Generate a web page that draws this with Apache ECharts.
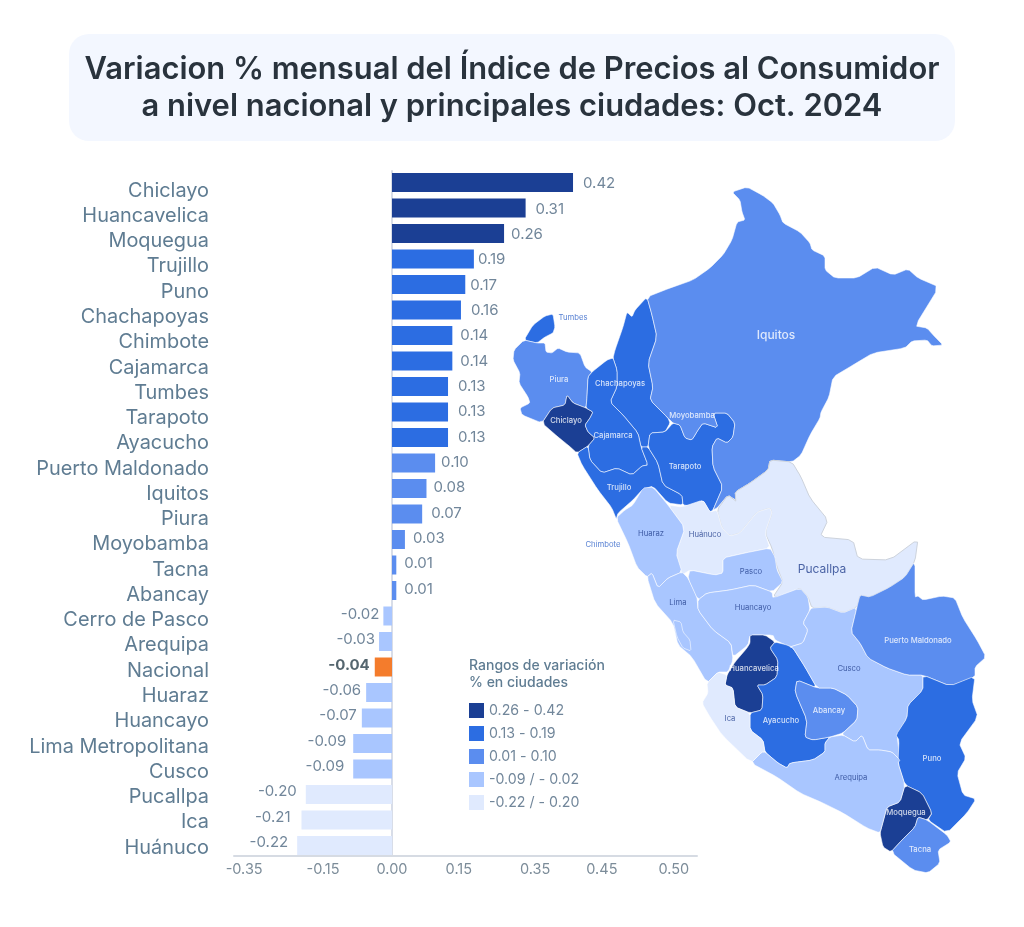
<!DOCTYPE html>
<html lang="es">
<head>
<meta charset="utf-8">
<title>Variación IPC</title>
<style>html,body{margin:0;padding:0;background:#fff}#c{width:1024px;height:927px}</style>
<script src="https://cdn.jsdelivr.net/npm/echarts@6/dist/echarts.min.js"></script>
</head>
<body>
<div id="c"></div>
<script>
const cities = ['Chiclayo','Huancavelica','Moquegua','Trujillo','Puno','Chachapoyas','Chimbote','Cajamarca','Tumbes','Tarapoto','Ayacucho','Puerto Maldonado','Iquitos','Piura','Moyobamba','Tacna','Abancay','Cerro de Pasco','Arequipa','Nacional','Huaraz','Huancayo','Lima Metropolitana','Cusco','Pucallpa','Ica','Huánuco'];
const values = [0.42,0.31,0.26,0.19,0.17,0.16,0.14,0.14,0.13,0.13,0.13,0.10,0.08,0.07,0.03,0.01,0.01,-0.02,-0.03,-0.04,-0.06,-0.07,-0.09,-0.09,-0.20,-0.21,-0.22];
const axisTickLabels = ['-0.35','-0.15','0.00','0.15','0.35','0.45','0.50'];
const axisTickPlaces = [-0.343,-0.16,0,0.155,0.332,0.487,0.654];
const labelGaps = [10,10,7,4,5,10,8,8,10,10,10,6,7,9,8,8,8,4,4,5,5,5,7,9,9,11,9];
const rangeLabels = ['0.26 - 0.42','0.13 - 0.19','0.01 - 0.10','-0.09 / - 0.02','-0.22 / - 0.20'];
const rangeMin = [0.26,0.13,0.01,-0.09,-0.22];
const rangeMax = [0.42,0.19,0.10,-0.02,-0.20];
const rangeColors = ['#1B3F94','#2C6DE2','#5B8DEF','#A9C6FF','#E0EAFE'];
const nationalColor = '#F47C2C';

// region outlines; x right, y down
const regionShapes = {
 Tumbes:[[524,340],[533,325],[545,316],[553,314],[555,327],[553,333],[545,337],[537,343]],
 Piura:[[524,340],[537,343],[545,343],[546,352],[552,353],[558,348],[567,352],[580,353],[585,367],[592,372],[588,377],[587,397],[586,408],[573,403],[567,395],[565,405],[552,408],[542,423],[522,415],[520,408],[530,403],[528,397],[519,383],[520,373],[513,360],[514,350]],
 Chiclayo:[[542,423],[552,408],[565,405],[567,395],[573,403],[586,408],[593,412],[590,418],[585,425],[588,432],[595,438],[588,446],[577,453],[568,445],[558,437]],
 Chachapoyas:[[647,297],[652,315],[657,337],[648,363],[653,387],[650,400],[668,418],[670,423],[665,432],[650,433],[648,447],[641,447],[638,433],[623,415],[610,402],[617,387],[617,370],[613,358],[615,350],[623,327],[627,312],[632,317],[635,310]],
 Cajamarca:[[592,372],[607,360],[613,358],[617,370],[617,387],[610,402],[623,415],[638,433],[641,447],[648,465],[642,466],[632,475],[617,468],[602,473],[590,460],[588,446],[595,438],[588,432],[585,425],[590,418],[593,412],[586,408],[587,397],[588,377]],
 Trujillo:[[577,453],[588,446],[590,460],[602,473],[617,468],[632,475],[642,466],[648,465],[641,447],[648,447],[658,463],[663,485],[682,495],[683,505],[668,503],[653,486],[642,490],[633,500],[618,513],[616,520],[612,508],[598,490],[582,465]],
 Tarapoto:[[648,447],[650,433],[665,432],[673,423],[680,425],[685,438],[692,440],[698,430],[703,423],[718,428],[713,413],[727,413],[735,423],[733,437],[727,443],[717,438],[712,447],[713,467],[723,487],[713,510],[710,512],[703,500],[693,506],[683,505],[682,495],[663,485],[658,463]],
 Iquitos:[[647,297],[670,288],[693,280],[710,268],[723,255],[732,240],[737,222],[745,220],[742,212],[740,200],[732,192],[747,187],[762,195],[773,203],[780,215],[783,223],[800,232],[810,243],[812,250],[825,256],[825,270],[835,278],[857,278],[875,267],[893,275],[908,269],[918,278],[939,287],[915,326],[927,328],[935,337],[943,345],[932,346],[927,340],[912,341],[905,348],[873,353],[853,365],[833,377],[829,397],[821,412],[820,418],[810,435],[801,455],[792,462],[770,460],[768,470],[750,483],[735,492],[737,502],[728,495],[717,508],[713,510],[723,487],[713,467],[712,447],[717,438],[727,443],[733,437],[735,423],[727,413],[713,413],[718,428],[703,423],[698,430],[692,440],[685,438],[680,425],[673,423],[668,418],[650,400],[653,387],[648,363],[657,337],[652,315]],
 Pucallpa:[[770,460],[792,462],[801,477],[810,498],[828,520],[820,537],[853,540],[858,559],[890,560],[918,539],[915,561],[905,577],[890,587],[870,597],[860,595],[857,607],[843,613],[827,607],[812,608],[808,597],[800,588],[787,595],[773,597],[783,582],[777,567],[772,548],[765,533],[772,513],[770,508],[757,512],[740,533],[730,536],[722,528],[717,510],[728,495],[737,502],[735,492],[750,483],[768,470]],
 Huánuco:[[668,505],[682,507],[703,500],[710,512],[717,510],[722,528],[730,536],[740,533],[757,512],[770,508],[772,513],[765,533],[770,548],[745,553],[723,558],[723,573],[715,575],[690,570],[682,575],[680,567],[676,553],[685,528]],
 Huaraz:[[616,518],[625,510],[633,505],[643,488],[653,487],[668,505],[685,528],[676,553],[682,572],[668,578],[658,588],[652,573],[647,577],[637,567],[628,543]],
 Lima:[[647,577],[652,573],[658,588],[668,578],[682,572],[688,578],[697,597],[698,610],[713,630],[731,643],[733,660],[728,672],[718,672],[707,683],[692,657],[678,645],[673,623],[655,603]],
 Callao:[[673,620],[681,622],[683,632],[690,640],[691,651],[683,648],[677,637]],
 Pasco:[[690,570],[715,575],[723,573],[723,558],[745,553],[770,548],[775,557],[777,570],[783,582],[772,592],[753,585],[730,590],[707,593],[698,600],[688,578]],
 Huancayo:[[698,600],[707,593],[730,590],[753,585],[772,592],[773,598],[800,588],[808,597],[810,610],[803,623],[808,630],[803,643],[790,647],[775,640],[773,635],[750,635],[748,645],[733,657],[731,643],[713,630],[698,610]],
 Huancavelica:[[750,635],[765,635],[775,642],[770,648],[778,660],[777,677],[765,685],[757,685],[763,695],[762,710],[750,713],[735,707],[733,688],[725,685],[727,675],[735,662],[747,648],[750,643]],
 Ayacucho:[[770,648],[775,642],[787,645],[793,648],[805,667],[817,688],[797,680],[795,692],[807,720],[805,737],[813,740],[830,737],[825,743],[825,752],[813,760],[790,763],[787,768],[778,763],[765,752],[763,740],[750,730],[750,713],[762,710],[763,695],[757,685],[765,685],[777,677],[778,660]],
 Abancay:[[797,680],[817,688],[833,688],[847,695],[858,707],[857,720],[843,733],[830,737],[813,740],[805,737],[807,720],[795,692]],
 Cusco:[[812,608],[827,607],[843,613],[857,607],[851,632],[860,643],[868,658],[887,668],[907,675],[923,675],[923,690],[908,705],[907,718],[897,735],[900,760],[892,752],[880,750],[868,750],[862,735],[855,742],[843,735],[843,733],[857,720],[858,707],[847,695],[833,688],[817,688],[805,667],[793,648],[790,647],[803,643],[808,630],[803,623],[810,610]],
 'Puerto Maldonado':[[860,595],[870,597],[890,587],[905,577],[915,561],[915,597],[918,596],[923,600],[942,596],[955,598],[963,618],[977,640],[986,657],[975,667],[975,677],[950,686],[923,675],[907,675],[887,668],[868,658],[860,643],[851,632],[857,607]],
 Puno:[[923,675],[950,686],[975,676],[972,700],[978,717],[959,743],[966,758],[957,773],[963,795],[976,799],[967,813],[947,833],[928,820],[932,813],[922,793],[905,785],[898,763],[899,740],[896,735],[907,718],[908,705],[923,690]],
 Moquegua:[[905,785],[922,793],[932,813],[927,820],[918,817],[915,827],[902,840],[891,852],[883,847],[880,833],[883,822],[887,807],[900,802]],
 Tacna:[[918,817],[927,820],[947,835],[951,842],[938,850],[940,863],[928,873],[913,870],[891,852],[902,840],[915,827]],
 Arequipa:[[751,763],[762,752],[765,752],[778,763],[787,768],[790,763],[813,760],[825,752],[825,743],[830,737],[843,735],[855,742],[862,735],[868,750],[880,750],[892,752],[900,760],[898,763],[905,785],[900,802],[887,807],[883,822],[880,833],[867,828],[843,813],[823,803],[800,793],[777,777]],
 Ica:[[727,675],[718,672],[707,683],[708,693],[702,703],[710,717],[722,735],[751,763],[762,752],[765,752],[763,740],[750,730],[750,713],[735,707],[733,688],[725,685]]
};
// region -> city whose value colours it
const regionCity = {Lima:'Lima Metropolitana',Pasco:'Cerro de Pasco'};

const mapLabelNames = ['Iquitos','Tumbes','Piura','Chachapoyas','Chiclayo','Cajamarca','Moyobamba','Tarapoto','Trujillo','Huaraz','Huánuco','Chimbote','Pasco','Huancayo','Lima','Pucallpa','Puerto Maldonado','Cusco','Huancavelica','Abancay','Ayacucho','Ica','Arequipa','Puno','Moquegua','Tacna'];
const mapLabelX = [776,573,559,620,566,613,692,685,619,651,705,603,751,753,678,822,918,849,754,829,781,730,851,932,906,920];
const mapLabelY = [335,318,380,384,421,436,416,467,488,534,535,545,572,608,603,569,641,669,669,711,721,719,778,759,813,850];
const darkLabels = ['Huaraz','Huánuco','Pasco','Huancayo','Lima','Pucallpa','Cusco','Ica','Arequipa'];
const blueLabels = ['Tumbes','Chimbote'];
const bigLabels = ['Iquitos','Pucallpa'];

const FONT = 'Inter';
const NAME_COL = '#5F7C92', NUM_COL = '#71869A';

function colorOf(v){
  for (let i=0;i<rangeMin.length;i++){ if (v>=rangeMin[i] && v<=rangeMax[i]) return rangeColors[i]; }
  return rangeColors[3];
}
// one pass of light corner cutting softens the traced outlines
function soften(ring){
  const out=[], t=0.14;
  for (let i=0;i<ring.length;i++){
    const a=ring[i], b=ring[(i+1)%ring.length];
    out.push([a[0]*(1-t)+b[0]*t,a[1]*(1-t)+b[1]*t],[a[0]*t+b[0]*(1-t),a[1]*t+b[1]*(1-t)]);
  }
  return out;
}
const features = Object.keys(regionShapes).map(n=>{
  const ring = soften(regionShapes[n]).map(p=>[p[0],-p[1]]);
  ring.push(ring[0]);
  return {type:'Feature',properties:{name:n},geometry:{type:'Polygon',coordinates:[ring]}};
});
echarts.registerMap('peru',{type:'FeatureCollection',features});

const mapData = Object.keys(regionShapes).filter(n=>cities.indexOf(regionCity[n]||n)>=0).map(n=>({name:n,value:values[cities.indexOf(regionCity[n]||n)]}));
const SCALE_MIN=(234-392)/431, SCALE_MAX=(697-392)/431;

const chart = echarts.init(document.getElementById('c'));
chart.setOption({
  animation:false,
  backgroundColor:'#fff',
  title:{
    text:'Variacion % mensual del Índice de Precios al Consumidor\na nivel nacional y principales ciudades: Oct. 2024',
    left:'center',top:34,
    padding:[17,15.5,16,15.5],
    backgroundColor:'#F3F7FF',borderRadius:20,
    textStyle:{fontFamily:FONT,fontSize:30.9,fontWeight:600,color:'#29333D',lineHeight:37}
  },
  grid:[
    {left:234,width:463,top:169.75,height:688.5},
    {left:209,width:10,top:178,height:682.3},
    {left:234,width:463,top:171,height:684}
  ],
  xAxis:[
    {type:'value',gridIndex:0,min:SCALE_MIN,max:SCALE_MAX,offset:-2.75,
     axisLine:{show:true,onZero:false,lineStyle:{color:'#D6DBE3',width:2}},axisTick:{show:false},splitLine:{show:false},
     axisLabel:{customValues:axisTickPlaces,formatter:v=>axisTickLabels[axisTickPlaces.indexOf(v)],fontFamily:FONT,fontSize:14.5,color:'#7C8C99',margin:7,hideOverlap:false}},
    {type:'value',gridIndex:1,show:false},
    {type:'value',gridIndex:2,min:SCALE_MIN,max:SCALE_MAX,show:false}
  ],
  yAxis:[
    {type:'category',gridIndex:0,inverse:true,data:cities,show:false},
    {type:'category',gridIndex:1,inverse:true,data:cities,position:'left',axisLine:{show:false},axisTick:{show:false},
     axisLabel:{interval:0,margin:0,fontFamily:FONT,fontSize:19.9,color:NAME_COL}},
    {type:'category',gridIndex:2,inverse:true,data:cities,axisLine:{show:true,onZero:true,lineStyle:{color:'#D8DDE8',width:2}},axisTick:{show:false},axisLabel:{show:false}}
  ],
  geo:{
    map:'peru',roam:false,silent:true,aspectScale:1,
    boundingCoords:[[513,-187],[986,-873]],
    left:513,top:187,width:473,height:686,
    label:{show:false},
    itemStyle:{areaColor:rangeColors[3],borderColor:'rgba(255,255,255,0.7)',borderWidth:0.8},
    emphasis:{disabled:true},
    regions:[{name:'Pucallpa',itemStyle:{borderColor:'#CDD3DC',borderWidth:1}}]
  },
  visualMap:{
    type:'piecewise',seriesIndex:2,orient:'vertical',left:454,top:688,
    itemWidth:15,itemHeight:15,itemGap:8,textGap:5,itemSymbol:'rect',
    selectedMode:false,hoverLink:false,
    textStyle:{fontFamily:FONT,fontSize:14.2,color:NUM_COL},
    pieces:rangeLabels.map((l,i)=>({min:rangeMin[i],max:rangeMax[i],label:l,color:rangeColors[i]}))
  },
  graphic:[{type:'text',left:469,top:657,silent:true,style:{text:'Rangos de variación\n% en ciudades',fontFamily:FONT,fontSize:14,fontWeight:500,lineHeight:17.5,fill:'#5F7C92'}}],
  series:[
    {type:'bar',xAxisIndex:0,yAxisIndex:0,barWidth:19,silent:true,z:2,
     data:values.map((v,i)=>({value:v,itemStyle:{color:cities[i]==='Nacional'?nationalColor:colorOf(v)}}))},
    {type:'bar',xAxisIndex:2,yAxisIndex:2,barWidth:19,silent:true,z:3,
     itemStyle:{color:'transparent'},
     data:values.map((v,i)=>({value:v,label:{show:true,position:v<0?'left':'right',distance:labelGaps[i],
       formatter:()=>v.toFixed(2),fontFamily:FONT,fontSize:15,
       fontWeight:cities[i]==='Nacional'?700:400,color:cities[i]==='Nacional'?'#55666F':NUM_COL}}))},
    {type:'map',geoIndex:0,data:mapData,silent:true},
    {type:'scatter',coordinateSystem:'geo',symbolSize:1,silent:true,z:5,itemStyle:{color:'transparent'},
     data:mapLabelNames.map((n,i)=>{
       const dark=darkLabels.indexOf(n)>=0, blue=blueLabels.indexOf(n)>=0, big=bigLabels.indexOf(n)>=0;
       return {name:n,value:[mapLabelX[i],-mapLabelY[i]],label:{show:true,position:'inside',formatter:n,fontFamily:FONT,
         fontSize:big?12:7.7,fontWeight:(dark||blue)?400:500,color:blue?'#2B5FC7':(dark?'#24418F':'#FFFFFF')}};
     })}
  ]
});
</script>
</body>
</html>
